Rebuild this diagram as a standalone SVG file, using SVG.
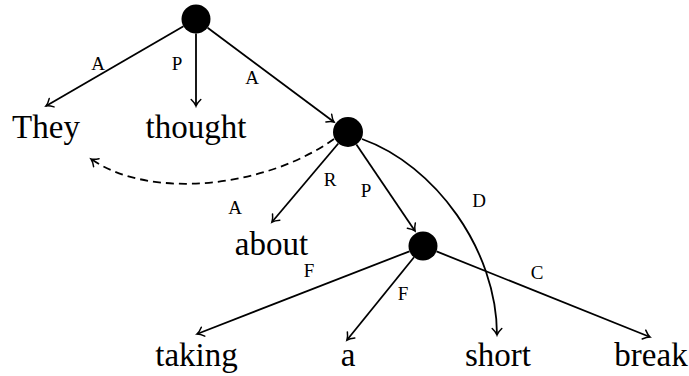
<svg xmlns="http://www.w3.org/2000/svg" width="689" height="376" viewBox="0 0 689 376">
<style>
.w{font-size:33px;fill:#000;text-anchor:middle}
.l{font-size:19px;fill:#000;text-anchor:middle}
.e{fill:none;stroke:#000;stroke-width:1.8;marker-end:url(#ah)}
.d{stroke-dasharray:8,5}
.n{fill:#000}
</style>
<defs>
<marker id="ah" markerUnits="userSpaceOnUse" markerWidth="20" markerHeight="20" viewBox="-10 -10 20 20" refX="0" refY="0" orient="auto">
<path d="M-6.5,-4.8 C-4,-2.2 -1.6,-0.6 0,0 C-1.6,0.6 -4,2.2 -6.5,4.8" fill="none" stroke="#000" stroke-width="1.5" stroke-linecap="round"/>
</marker>
</defs>
<g id="connectors">
<path class="e" d="M183.5,26.3 L46,106"/>
<path class="e" d="M196,33.5 L196,106"/>
<path class="e" d="M207.6,27.7 L334,122"/>
<path class="e" d="M338.3,143.5 L272,222"/>
<path class="e" d="M356.4,144.4 L415,231"/>
<path class="e" d="M362,139 C435,165 497,250 497,335"/>
<path class="e d" d="M334,139 C265,188 150,200 91,159"/>
<path class="e" d="M409.5,251.3 L197,334"/>
<path class="e" d="M414,257.3 L347,340"/>
<path class="e" d="M436.5,251.4 L650,337"/>
</g>
<g id="labels" font-family="'Liberation Serif', 'Times New Roman', 'DejaVu Serif', serif">
<text class="l" x="98" y="69.5">A</text>
<text class="l" x="177" y="69.5">P</text>
<text class="l" x="252" y="83.5">A</text>
<text class="l" x="330" y="185.5">R</text>
<text class="l" x="366" y="197">P</text>
<text class="l" x="479" y="206.5">D</text>
<text class="l" x="235" y="213.5">A</text>
<text class="l" x="309" y="276.5">F</text>
<text class="l" x="403" y="299.5">F</text>
<text class="l" x="537" y="278.5">C</text>
</g>
<g id="root"><circle class="n" cx="196" cy="19" r="14.5"/></g>
<g id="scene2"><circle class="n" cx="348" cy="132" r="15"/></g>
<g id="scene3"><circle class="n" cx="423" cy="246" r="14.5"/></g>
<g id="words" font-family="'Liberation Serif', 'Times New Roman', 'DejaVu Serif', serif">
<g id="they"><text class="w" x="46" y="138">They</text></g>
<g id="thought"><text class="w" x="196" y="138">thought</text></g>
<g id="about"><text class="w" x="271.5" y="255">about</text></g>
<g id="taking"><text class="w" x="196.5" y="366">taking</text></g>
<g id="a"><text class="w" x="348" y="366">a</text></g>
<g id="short"><text class="w" x="498" y="366">short</text></g>
<g id="break"><text class="w" x="651" y="366">break</text></g>
</g>
</svg>
